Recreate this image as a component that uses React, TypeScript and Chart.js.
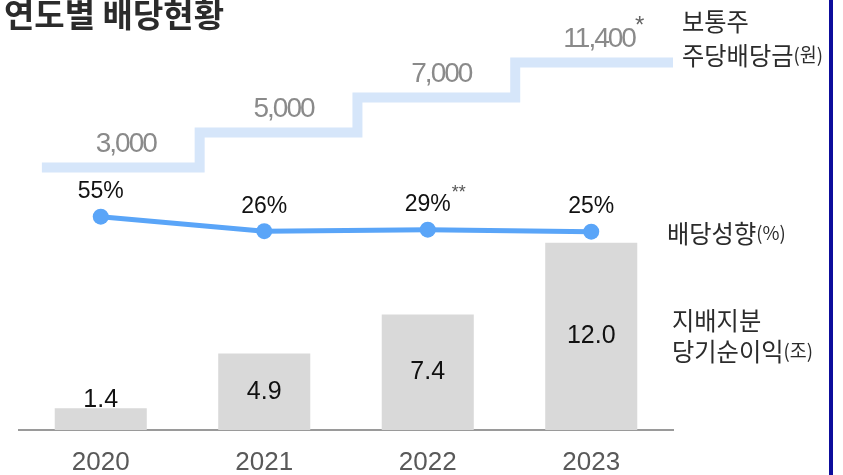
import React, { useEffect, useRef } from 'react';
import { Chart, registerables } from 'chart.js';

Chart.register(...registerables);

// ---- data ----
const years = ['2020', '2021', '2022', '2023'];
const netIncome = [1.4, 4.9, 7.4, 12.0]; // 지배지분 당기순이익 (조)
const payoutRatio = [55, 26, 29, 25]; // 배당성향 (%)
const dividendPerShare = [3000, 5000, 7000, 11400]; // 보통주 주당배당금 (원)
const dividendNotes = ['', '', '', '*'];
const payoutNotes = ['', '', '**', ''];
const titleText = '연도별 배당현황';

const dividendLabels = dividendPerShare.map((v) => v.toLocaleString('en-US'));
// each dividend applies for its fiscal-year span [year, year + 1]
const stepData = years
  .map((y, i) => ({ x: Number(y), y: dividendLabels[i] }))
  .concat([{ x: Number(years[years.length - 1]) + 1, y: dividendLabels[dividendLabels.length - 1] }]);

const LATIN = '"Liberation Sans", Arial, sans-serif';
const KR = '"Noto Sans CJK KR", sans-serif';

function drawParts(ctx: CanvasRenderingContext2D, parts: [string, number][], x: number, y: number, sx: number, bold = false) {
  ctx.save();
  ctx.translate(x, y);
  ctx.scale(sx, 1);
  let cx = 0;
  for (const [t, size] of parts) {
    ctx.font = `${bold ? 'bold ' : ''}${size}px ${KR}`;
    ctx.fillText(t, cx, 0);
    cx += ctx.measureText(t).width;
  }
  ctx.restore();
}

const overlay = {
  id: 'overlay',
  afterDatasetsDraw(chart: any) {
    const ctx: CanvasRenderingContext2D = chart.ctx;
    ctx.save();

    // bar value labels
    const barMeta = chart.getDatasetMeta(0);
    barMeta.data.forEach((el: any, i: number) => {
      const { x, y, base } = el.getProps(['x', 'y', 'base'], true);
      ctx.font = `25px ${LATIN}`;
      ctx.fillStyle = '#111';
      ctx.textAlign = 'center';
      const txt = netIncome[i].toFixed(1);
      if (base - y > 40) {
        ctx.textBaseline = 'middle';
        ctx.fillText(txt, x, (y + base) / 2);
      } else {
        ctx.textBaseline = 'alphabetic';
        ctx.fillText(txt, x, y - 1);
      }
    });

    // payout ratio labels
    const lineMeta = chart.getDatasetMeta(1);
    lineMeta.data.forEach((el: any, i: number) => {
      const { x, y } = el.getProps(['x', 'y'], true);
      const txt = `${payoutRatio[i]}%`;
      ctx.font = `23px ${LATIN}`;
      ctx.fillStyle = '#111';
      ctx.textAlign = 'center';
      ctx.textBaseline = 'middle';
      const ty = y - 25;
      ctx.fillText(txt, x, ty);
      if (payoutNotes[i]) {
        const w = ctx.measureText(txt).width;
        ctx.font = `18px ${LATIN}`;
        ctx.fillStyle = '#555';
        ctx.textAlign = 'left';
        ctx.fillText(payoutNotes[i], x + w / 2 + 1, ty - 12);
      }
    });

    // dividend step labels
    const xs = chart.scales.xStep;
    const ys = chart.scales.yStep;
    for (let i = 0; i < dividendLabels.length; i++) {
      const x0 = xs.getPixelForValue(stepData[i].x);
      const x1 = xs.getPixelForValue(stepData[i + 1].x);
      const yp = ys.getPixelForValue(i);
      const cx = (x0 + x1) / 2 + 5;
      const cy = yp - 23;
      ctx.font = `28px ${LATIN}`;
      (ctx as any).letterSpacing = '-2px';
      ctx.fillStyle = '#8a8a8a';
      ctx.textAlign = 'center';
      ctx.textBaseline = 'middle';
      ctx.fillText(dividendLabels[i], cx, cy);
      const w = ctx.measureText(dividendLabels[i]).width;
      (ctx as any).letterSpacing = '0px';
      if (dividendNotes[i]) {
        ctx.font = `24px ${LATIN}`;
        ctx.fillStyle = '#666';
        ctx.textAlign = 'left';
        ctx.fillText(dividendNotes[i], cx + w / 2, cy - 13);
      }
    }

    // title
    ctx.fillStyle = '#2b2b2b';
    ctx.textAlign = 'left';
    ctx.textBaseline = 'middle';
    drawParts(ctx, [[titleText, 33]], 4, 14, 1.0, true);

    // right-side series labels
    ctx.fillStyle = '#2b2b2b';
    drawParts(ctx, [['보통주', 25]], 682, 21, 0.97);
    drawParts(ctx, [['주당배당금', 25], ['(원)', 19]], 682, 55, 0.97);
    drawParts(ctx, [['배당성향', 25], ['(%)', 19]], 667, 233, 0.97);
    drawParts(ctx, [['지배지분', 25]], 672, 320, 0.97);
    drawParts(ctx, [['당기순이익', 25], ['(조)', 19]], 672, 351, 0.97);

    // right frame line
    ctx.fillStyle = '#0d0d9c';
    ctx.fillRect(829, 0, 4, chart.height);

    ctx.restore();
  },
};

export default function App() {
  const ref = useRef<HTMLCanvasElement | null>(null);

  useEffect(() => {
    if (!ref.current) return;
    const chart = new Chart(ref.current, {
      type: 'bar',
      data: {
        labels: years,
        datasets: [
          {
            type: 'bar',
            data: netIncome,
            backgroundColor: '#d9d9d9',
            xAxisID: 'x',
            yAxisID: 'yBar',
            barPercentage: 0.563,
            categoryPercentage: 1,
            grouped: false,
            order: 3,
          } as any,
          {
            type: 'line',
            data: payoutRatio,
            borderColor: '#5aa5f8',
            backgroundColor: '#5aa5f8',
            borderWidth: 5,
            pointRadius: 8,
            pointBorderWidth: 0,
            pointBackgroundColor: '#5aa5f8',
            tension: 0,
            xAxisID: 'x',
            yAxisID: 'yLine',
            clip: false,
            order: 1,
          } as any,
          {
            type: 'line',
            data: stepData,
            stepped: 'before',
            borderColor: '#d6e6fa',
            borderWidth: 10,
            borderJoinStyle: 'miter',
            borderCapStyle: 'butt',
            pointRadius: 0,
            xAxisID: 'xStep',
            yAxisID: 'yStep',
            clip: false,
            order: 2,
          } as any,
        ],
      },
      options: {
        animation: false,
        responsive: false,
        events: [],
        layout: { padding: { left: 19, right: 170, top: 62.5, bottom: -20 } },
        plugins: { legend: { display: false }, tooltip: { enabled: false } },
        scales: {
          x: {
            type: 'category',
            offset: true,
            grid: { display: false, drawTicks: false },
            border: { display: true, color: '#9a9a9a', width: 2 },
            ticks: {
              color: '#595959',
              font: { family: LATIN, size: 26, lineHeight: 1 },
              padding: 19.5,
              maxRotation: 0,
              autoSkip: false,
            },
          },
          xStep: {
            type: 'linear',
            display: false,
            position: 'bottom',
            offset: false,
            grid: { offset: false },
            min: 2019.855,
            max: 2024,
          },
          yStep: {
            type: 'category',
            labels: dividendLabels,
            display: false,
            reverse: true,
            offset: false,
            position: 'left',
            stack: 'left',
            stackWeight: 105,
            weight: 2,
          },
          yBar: {
            type: 'linear',
            display: false,
            position: 'left',
            min: 0,
            max: 16.83,
            stack: 'left',
            stackWeight: 262.5,
            weight: 1,
          },
          yLine: { type: 'linear', display: false, position: 'left', min: -371.6, max: 363.4 },
        },
      } as any,
      plugins: [overlay],
    });
    return () => chart.destroy();
  }, []);

  return (
    <div style={{ position: 'absolute', left: 0, top: 0, width: 843, height: 475 }}>
      <canvas ref={ref} width={843} height={475} style={{ display: 'block' }} />
    </div>
  );
}
